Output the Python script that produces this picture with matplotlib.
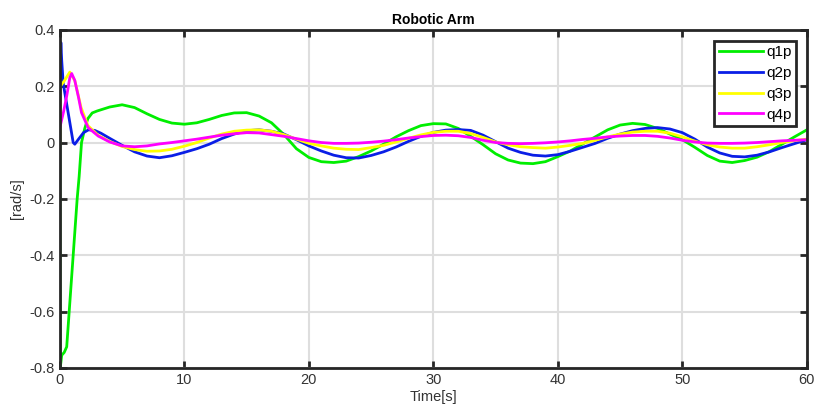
import matplotlib
matplotlib.use("Agg")
import matplotlib.pyplot as plt

plt.rcParams['font.family'] = ['Liberation Sans', 'DejaVu Sans']

# q1p (green)
t_q1 = [0.0, 0.03, 0.15, 0.35, 0.55, 0.75, 1.07, 1.39, 1.55, 1.74, 2.0, 2.25, 2.6, 3.0,
        4, 5, 6, 7, 8, 9, 10, 11, 12, 13, 14, 15, 16, 17, 18, 19, 20, 21, 22, 23, 24, 25,
        26, 27, 28, 29, 30, 31, 32, 33, 34, 35, 36, 37, 38, 39, 40, 41, 42, 43, 44, 45,
        46, 47, 48, 49, 50, 51, 52, 53, 54, 55, 56, 57, 58, 59, 60]
q1p = [0.045, -0.80, -0.755, -0.745, -0.725, -0.60, -0.40, -0.20, -0.12, 0.0, 0.05, 0.085, 0.105, 0.112,
       0.126, 0.134, 0.124, 0.102, 0.082, 0.069, 0.065, 0.07, 0.082, 0.096, 0.105, 0.106, 0.094, 0.07,
       0.028, -0.022, -0.053, -0.068, -0.071, -0.066, -0.05, -0.03, -0.006, 0.02, 0.042, 0.06, 0.067,
       0.066, 0.05, 0.022, -0.008, -0.04, -0.062, -0.073, -0.075, -0.068, -0.05, -0.03, -0.005, 0.02,
       0.045, 0.062, 0.068, 0.064, 0.05, 0.03, 0.01, -0.017, -0.046, -0.066, -0.071, -0.064, -0.052,
       -0.032, -0.006, 0.02, 0.045]

# q2p (blue)
t_q2 = [0.0, 0.08, 0.15, 0.27, 0.67, 1.07, 1.2, 1.5, 1.9, 2.3, 2.8, 3.3,
        4, 5, 6, 7, 8, 9, 10, 11, 12, 13, 14, 15, 16, 17, 18, 19, 20, 21, 22, 23, 24, 25,
        26, 27, 28, 29, 30, 31, 32, 33, 34, 35, 36, 37, 38, 39, 40, 41, 42, 43, 44, 45,
        46, 47, 48, 49, 50, 51, 52, 53, 54, 55, 56, 57, 58, 59, 60]
q2p = [0.21, 0.355, 0.29, 0.21, 0.105, 0.0, -0.006, 0.012, 0.035, 0.045, 0.043, 0.033,
       0.015, -0.01, -0.033, -0.048, -0.054, -0.047, -0.035, -0.022, -0.006, 0.014, 0.03, 0.042,
       0.045, 0.04, 0.03, 0.01, -0.012, -0.03, -0.045, -0.054, -0.055, -0.046, -0.033, -0.016,
       0.004, 0.022, 0.036, 0.044, 0.046, 0.043, 0.026, 0.003, -0.02, -0.035, -0.045, -0.048,
       -0.043, -0.031, -0.017, -0.003, 0.015, 0.03, 0.042, 0.05, 0.053, 0.048, 0.035, 0.012,
       -0.016, -0.037, -0.049, -0.051, -0.045, -0.033, -0.018, -0.004, 0.01]

# q3p (yellow)
t_q3 = [0.0, 0.04, 0.3, 0.8, 1.2, 1.7, 2.25, 3.1,
        4, 5, 6, 7, 8, 9, 10, 11, 12, 13, 14, 15, 16, 17, 18, 19, 20, 21, 22, 23, 24, 25,
        26, 27, 28, 29, 30, 31, 32, 33, 34, 35, 36, 37, 38, 39, 40, 41, 42, 43, 44, 45,
        46, 47, 48, 49, 50, 51, 52, 53, 54, 55, 56, 57, 58, 59, 60]
q3p = [0.0, 0.2, 0.215, 0.25, 0.22, 0.125, 0.06, 0.025,
       0.004, -0.014, -0.025, -0.031, -0.03, -0.024, -0.013, 0.0, 0.016, 0.03, 0.04, 0.044,
       0.045, 0.04, 0.028, 0.012, -0.003, -0.012, -0.02, -0.024, -0.025, -0.018, -0.01, 0.002,
       0.015, 0.027, 0.036, 0.04, 0.04, 0.032, 0.018, 0.002, -0.008, -0.015, -0.018, -0.02,
       -0.016, -0.01, -0.003, 0.008, 0.02, 0.03, 0.037, 0.04, 0.04, 0.033, 0.02, 0.005, -0.008,
       -0.016, -0.02, -0.02, -0.015, -0.008, 0.0, 0.007, 0.012]

# q4p (magenta)
t_q4 = [0.0, 0.3, 0.55, 0.8, 0.95, 1.2, 1.5, 1.74, 2.27, 3.08,
        4, 5, 6, 7, 8, 9, 10, 11, 12, 13, 14, 15, 16, 17, 18, 19, 20, 21, 22, 23, 24, 25,
        26, 27, 28, 29, 30, 31, 32, 33, 34, 35, 36, 37, 38, 39, 40, 41, 42, 43, 44, 45,
        46, 47, 48, 49, 50, 51, 52, 53, 54, 55, 56, 57, 58, 59, 60]
q4p = [0.053, 0.11, 0.165, 0.23, 0.245, 0.22, 0.16, 0.106, 0.053, 0.023,
       0.002, -0.012, -0.015, -0.012, -0.005, 0.0, 0.006, 0.012, 0.019, 0.026, 0.031, 0.035,
       0.034, 0.028, 0.022, 0.014, 0.006, 0.0, -0.003, -0.003, -0.002, 0.001, 0.005, 0.01,
       0.016, 0.021, 0.025, 0.026, 0.024, 0.018, 0.008, 0.0, -0.003, -0.004, -0.003, -0.001,
       0.002, 0.006, 0.011, 0.015, 0.02, 0.023, 0.025, 0.025, 0.022, 0.016, 0.008, 0.002,
       -0.002, -0.003, -0.003, -0.002, 0.0, 0.003, 0.006, 0.008, 0.01]

x_ticks = [0, 10, 20, 30, 40, 50, 60]
y_ticks = [-0.8, -0.6, -0.4, -0.2, 0, 0.2, 0.4]
y_ticklabels = ["-0.8", "-0.6", "-0.4", "-0.2", "0", "0.2", "0.4"]

fig = plt.figure(figsize=(8.2, 4.2), dpi=100)
ax = fig.add_axes([0.073, 0.124, 0.911, 0.805])

lw = 2.0
ax.plot(t_q1, q1p, color="#00ee00", lw=lw, label="q1p")
ax.plot(t_q2, q2p, color="#0a1ee6", lw=lw, label="q2p")
ax.plot(t_q3, q3p, color="#ffff00", lw=lw, label="q3p")
ax.plot(t_q4, q4p, color="#ff00ff", lw=lw, label="q4p")

ax.set_xlim(0, 60)
ax.set_ylim(-0.8, 0.4)
ax.set_xticks(x_ticks)
ax.set_yticks(y_ticks)
ax.set_yticklabels(y_ticklabels)
ax.grid(True, color="#dedede", lw=1.5)
ax.set_axisbelow(True)
ax.tick_params(direction="in", length=5, width=2, top=True, right=True,
               labelsize=10.5, colors="#262626", labelcolor="#333333")
for s in ax.spines.values():
    s.set_linewidth(2)
    s.set_color("#262626")

ax.set_title("Robotic Arm", fontsize=10, fontweight="bold", pad=4)
ax.set_xlabel("Time[s]", fontsize=10.5, color="#333333", labelpad=2)
ax.set_ylabel("[rad/s]", fontsize=10.5, color="#333333", labelpad=4)

leg = ax.legend(loc="upper right", fontsize=11, fancybox=False, framealpha=1,
                edgecolor="#262626", handlelength=2.9, borderaxespad=0.7,
                handletextpad=0.2, labelspacing=0.45, borderpad=0.3)
leg.get_frame().set_linewidth(2)

fig.savefig("out.png", dpi=100)
